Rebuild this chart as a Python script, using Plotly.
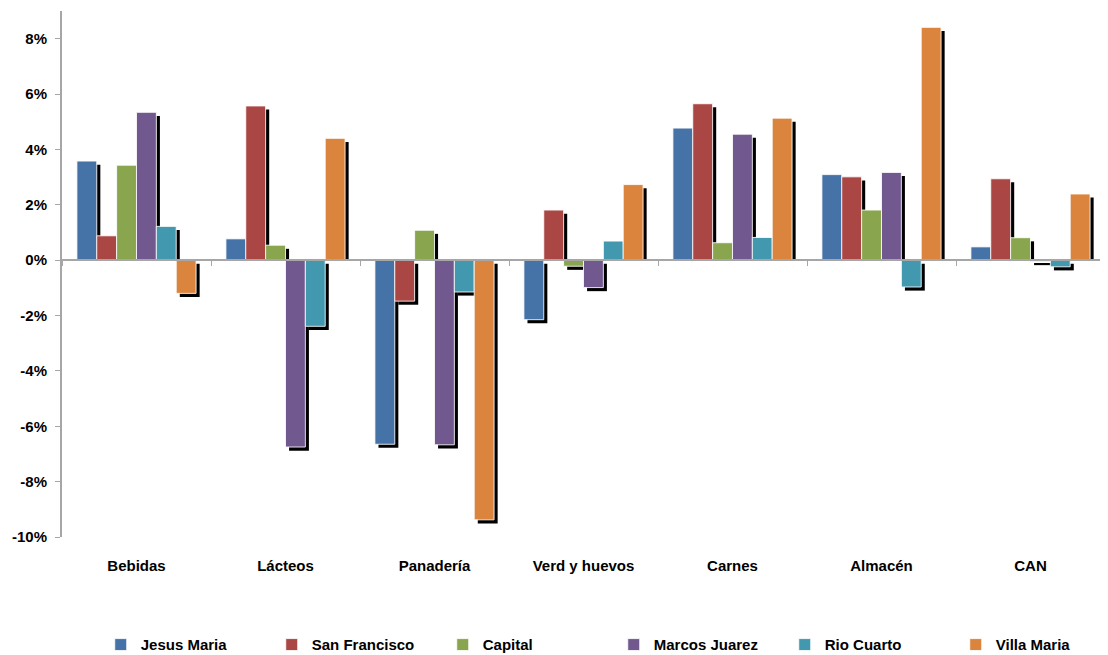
import plotly.graph_objects as go

categories = ["Bebidas", "Lácteos", "Panadería", "Verd y huevos", "Carnes", "Almacén", "CAN"]

jesus_maria   = [3.58, 0.77, -6.65, -2.15, 4.77, 3.09, 0.48]
san_francisco = [0.88, 5.57, -1.48, 1.81, 5.65, 3.01, 2.94]
capital       = [3.43, 0.54, 1.08, -0.22, 0.63, 1.81, 0.81]
marcos_juarez = [5.34, -6.75, -6.67, -0.99, 4.55, 3.17, -0.05]
rio_cuarto    = [1.22, -2.39, -1.15, 0.69, 0.82, -0.97, -0.24]
villa_maria   = [-1.20, 4.40, -9.38, 2.73, 5.13, 8.41, 2.39]

series_names = ["Jesus Maria", "San Francisco", "Capital", "Marcos Juarez", "Rio Cuarto", "Villa Maria"]
series_values = [jesus_maria, san_francisco, capital, marcos_juarez, rio_cuarto, villa_maria]
colors = ["#4572A7", "#AA4643", "#89A54E", "#71588F", "#4198AF", "#DB843D"]

y_tickvals = [8, 6, 4, 2, 0, -2, -4, -6, -8, -10]
y_ticktext = ["8%", "6%", "4%", "2%", "0%", "-2%", "-4%", "-6%", "-8%", "-10%"]

W = 0.1333          # bar width (category units)
START = -0.40       # left edge of first bar
DX = 0.024          # shadow horizontal offset
DY = 0.13           # shadow vertical offset (value units)

fig = go.Figure()

# shadows (behind everything)
for i, vals in enumerate(series_values):
    sy, sb = [], []
    for v in vals:
        if v >= 0:
            sy.append(max(v - DY, 0))
            sb.append(0)
        else:
            sy.append(v)
            sb.append(-DY)
    fig.add_trace(go.Bar(
        x=categories, y=sy, base=sb,
        offset=START + i * W + DX, width=W,
        marker=dict(color="black", line=dict(width=0)),
        showlegend=False, hoverinfo="skip",
    ))

for i, (name, vals, col) in enumerate(zip(series_names, series_values, colors)):
    fig.add_trace(go.Bar(
        x=categories, y=vals, name=name,
        offset=START + i * W, width=W,
        marker=dict(color=col, line=dict(color="rgba(255,255,255,0.85)", width=1)),
    ))

# empty trace so that the zero-crossing category axis (x2) gets drawn
fig.add_trace(go.Scatter(x=[], y=[], xaxis="x2", showlegend=False, hoverinfo="skip"))

fig.update_layout(
    width=1100, height=647,
    barmode="overlay",
    plot_bgcolor="white", paper_bgcolor="white",
    margin=dict(l=54, r=3, t=3, b=118, autoexpand=False),
    font=dict(family="Liberation Sans", size=15, color="black"),
    xaxis=dict(
        type="category", range=[-0.5, 6.5],
        showline=False, showgrid=False, zeroline=False, ticks="",
        tickfont=dict(family="Liberation Sans", size=15, color="black", weight="bold"),
        ticklabelstandoff=18,
    ),
    xaxis2=dict(
        overlaying="x", anchor="free", position=10 / 19,
        range=[-0.5, 6.5], type="linear",
        tickvals=[-0.5, 0.5, 1.5, 2.5, 3.5, 4.5, 5.5, 6.5],
        showticklabels=False, ticks="outside", ticklen=5, tickcolor="#A6A6A6",
        showline=True, linecolor="#A6A6A6", linewidth=2, showgrid=False, zeroline=False,
    ),
    yaxis=dict(
        range=[-10, 9], tickvals=y_tickvals, ticktext=y_ticktext,
        showline=True, linecolor="#A6A6A6", linewidth=2,
        ticks="outside", ticklen=5, tickcolor="#A6A6A6",
        showgrid=False, zeroline=False, ticklabelstandoff=5,
        tickfont=dict(family="Liberation Sans", size=15, color="black", weight="bold"),
    ),
    legend=dict(
        orientation="h", x=0.529, xanchor="center", y=-0.205, yanchor="middle",
        font=dict(family="Liberation Sans", size=15, color="black", weight="bold"),
        entrywidth=126, entrywidthmode="pixels", itemwidth=30,
    ),
)

fig.write_html("out.html")
